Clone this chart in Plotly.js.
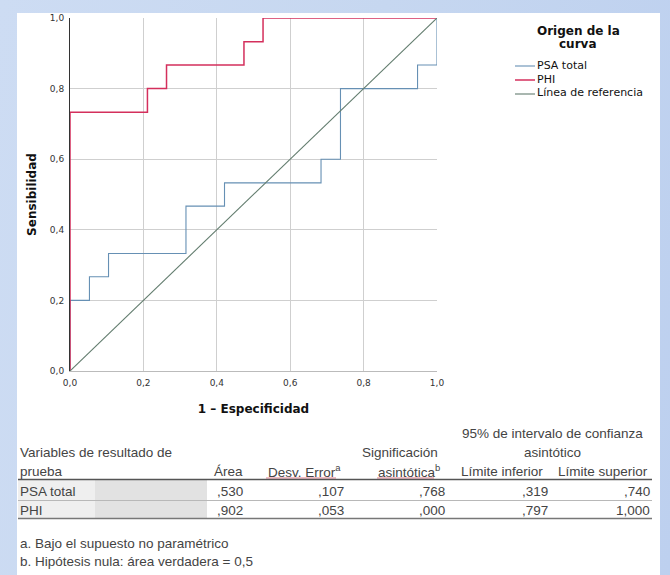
<!DOCTYPE html>
<html>
<head>
<meta charset="utf-8">
<script src="https://cdn.plot.ly/plotly-3.0.1.min.js"></script>
<style>
  html, body { margin: 0; padding: 0; }
  #wrap { position: relative; width: 670px; height: 575px; overflow: hidden;
          background: linear-gradient(100deg, #cddcf3 0%, #c6d7f0 50%, #bdd0ef 100%); }
  #panel { position: absolute; left: 17px; top: 13px; width: 643px; height: 562px; background: #ffffff; }
  #chart { position: absolute; left: 0; top: 0; width: 670px; height: 575px; }
</style>
</head>
<body>
<div id="wrap"><div id="panel"></div><div id="chart"></div></div>
<script>
// ---- ROC data ----
const psaFPR = [0, 0, 0.053, 0.105, 0.316, 0.421, 0.684, 0.737, 0.947, 1];
const psaTPR = [0, 0.2, 0.267, 0.333, 0.467, 0.533, 0.6, 0.8, 0.867, 1];
const phiFPR = [0, 0, 0.211, 0.263, 0.474, 0.526, 1];
const phiTPR = [0, 0.733, 0.8, 0.867, 0.933, 1, 1];
const refX = [0, 1];
const refY = [0, 1];
const seriesNames = ["PSA total", "PHI", "Línea de referencia"];
const seriesColors = ["#6690b4", "#d42f5c", "#637d6f"];
const tickVals = [0, 0.2, 0.4, 0.6, 0.8, 1.0];

// ---- table data ----
const tableRowLabels = ["PSA total", "PHI"];
const colArea = [",530", ",902"];
const colStdErr = [",107", ",053"];
const colSig = [",768", ",000"];
const colLower = [",319", ",797"];
const colUpper = [",740", "1,000"];
const footnotes = ["a. Bajo el supuesto no paramétrico", "b. Hipótesis nula: área verdadera = 0,5"];

// pixel -> paper helpers (plot area 70..437 x, 18..371 y)
const PX0 = 70, PX1 = 437, PY0 = 371, PY1 = 18;
const px = p => (p - PX0) / (PX1 - PX0);
const py = p => (PY0 - p) / (PY0 - PY1);

const traces = [
  {x: psaFPR, y: psaTPR, mode: "lines", line: {shape: "hv", color: seriesColors[0], width: 1.1}, name: seriesNames[0], hoverinfo: "x+y"},
  {x: phiFPR, y: phiTPR, mode: "lines", line: {shape: "hv", color: seriesColors[1], width: 1.5}, name: seriesNames[1], hoverinfo: "x+y"},
  {x: refX, y: refY, mode: "lines", line: {color: seriesColors[2], width: 1.1}, name: seriesNames[2], hoverinfo: "x+y"}
];

const tFont = {family: "Liberation Sans, Arial, sans-serif", size: 13.5, color: "#444444"};
const ann = [];
const shapes = [];
function txt(t, x, y, anchor, font) {
  ann.push({text: t, xref: "paper", yref: "paper", x: px(x), y: py(y), xanchor: anchor, yanchor: "middle",
            showarrow: false, font: font || tFont, borderpad: 0});
}
function hline(x0, x1, y, color, w) {
  shapes.push({type: "line", xref: "paper", yref: "paper", x0: px(x0), x1: px(x1), y0: py(y), y1: py(y),
               line: {color: color, width: w}});
}

// legend (manual, compact)
const legFontB = {family: "DejaVu Sans, sans-serif", size: 12, color: "#111111"};
const legFont = {family: "DejaVu Sans, sans-serif", size: 11, color: "#111111"};
txt("<b>Origen de la</b>", 578, 31, "center", legFontB);
txt("<b>curva</b>", 578, 44, "center", legFontB);
const legY = [65, 79, 93];
for (let i = 0; i < 3; i++) {
  txt(seriesNames[i], 536, legY[i], "left", legFont);
  shapes.push({type: "line", xref: "paper", yref: "paper", x0: px(515), x1: px(535), y0: py(legY[i] + 1), y1: py(legY[i] + 1),
               line: {color: seriesColors[i], width: i === 1 ? 1.5 : 1.1}});
}

// row label shading
shapes.push({type: "rect", xref: "paper", yref: "paper", x0: px(18), x1: px(95), y0: py(480), y1: py(518),
             fillcolor: "#efefef", line: {width: 0}, layer: "below"});
shapes.push({type: "rect", xref: "paper", yref: "paper", x0: px(95), x1: px(207), y0: py(480), y1: py(518),
             fillcolor: "#e2e2e2", line: {width: 0}, layer: "below"});

// table header
txt("95% de intervalo de confianza", 552, 433, "center");
txt("Variables de resultado de", 19, 452, "left");
txt("Significación", 400, 452, "center");
txt("asintótico", 552, 452, "center");
txt("prueba", 19, 471, "left");
txt("Área", 244, 471, "right");
txt("Desv. Error<sup>a</sup>", 342, 471, "right");
txt("asintótica<sup>b</sup>", 441, 471, "right");
txt("Límite inferior", 544, 471, "right");
txt("Límite superior", 649, 471, "right");
// spell-check underlines
hline(266, 336, 478, "#e07a8a", 1);
hline(377, 434, 478, "#e07a8a", 1);

hline(18, 652, 479.5, "#555555", 1.5);
const rowY = [491, 510];
for (let r = 0; r < tableRowLabels.length; r++) {
  txt(tableRowLabels[r], 19, rowY[r], "left");
  txt(colArea[r], 244, rowY[r], "right");
  txt(colStdErr[r], 345, rowY[r], "right");
  txt(colSig[r], 446, rowY[r], "right");
  txt(colLower[r], 549, rowY[r], "right");
  txt(colUpper[r], 651, rowY[r], "right");
}
hline(18, 652, 500.5, "#b8b8b8", 1);
hline(18, 652, 518.5, "#777777", 1.5);

txt(footnotes[0], 19, 543, "left");
txt(footnotes[1], 19, 561, "left");

const axFont = {family: "DejaVu Sans, sans-serif", size: 9, color: "#333333"};
const layout = {
  width: 670, height: 575,
  margin: {l: 70, r: 233, t: 18, b: 204},
  paper_bgcolor: "rgba(0,0,0,0)",
  plot_bgcolor: "#ffffff",
  separators: ",.",
  showlegend: false,
  font: {family: "DejaVu Sans, sans-serif"},
  xaxis: {
    range: [0, 1], tickvals: tickVals, tickformat: ".1f", ticks: "", tickfont: axFont,
    showgrid: true, gridcolor: "#cfcfcf", gridwidth: 1, zeroline: false, ticklabelstandoff: 3,
    showline: true, linecolor: "#bbbbbb", linewidth: 1, fixedrange: true,
    title: {text: "<b>1 – Especificidad</b>", font: {family: "DejaVu Sans, sans-serif", size: 12, color: "#111111"}, standoff: 17}
  },
  yaxis: {
    range: [0, 1], tickvals: tickVals, tickformat: ".1f", ticks: "", tickfont: axFont,
    showgrid: true, gridcolor: "#cfcfcf", gridwidth: 1, zeroline: false,
    showline: true, linecolor: "#333333", linewidth: 1, fixedrange: true, ticklabelstandoff: 3,
    title: {text: "<b>Sensibilidad</b>", font: {family: "DejaVu Sans, sans-serif", size: 12, color: "#111111"}, standoff: 10}
  },
  annotations: ann,
  shapes: shapes
};

Plotly.newPlot("chart", traces, layout, {displayModeBar: false, staticPlot: true});
</script>
</body>
</html>
